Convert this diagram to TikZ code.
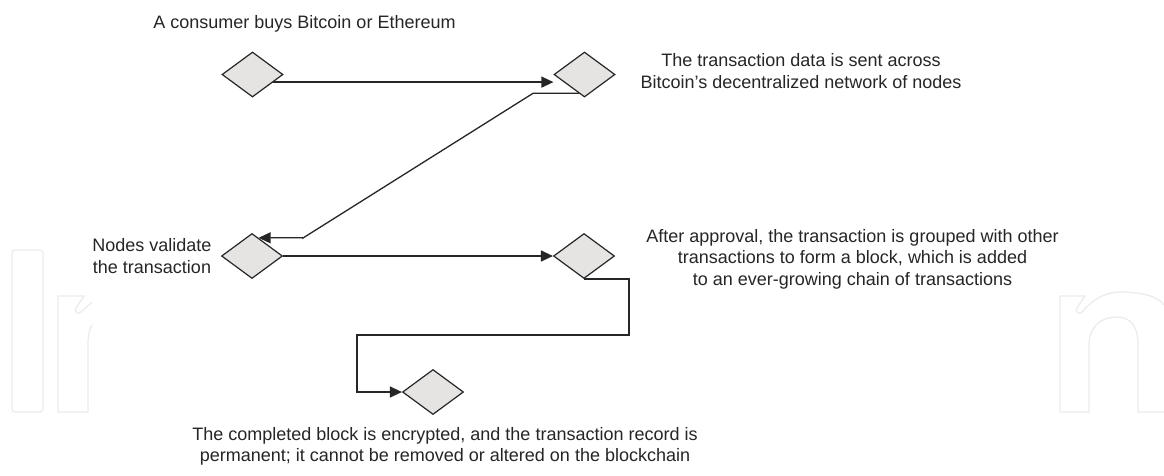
\documentclass[tikz,border=0pt]{standalone}
\usepackage{fontspec}
\setmainfont{Liberation Sans}
\usetikzlibrary{shapes.geometric,arrows.meta}
\definecolor{diafill}{HTML}{E6E4E3}
\definecolor{ink}{HTML}{262626}
\definecolor{markgray}{HTML}{ECECEC}
\begin{document}
\begin{tikzpicture}[x=1pt,y=-1pt,
  stage/.style={diamond, draw=ink, fill=diafill, line width=1.2pt,
    minimum width=61pt, minimum height=45pt, inner sep=0pt, aspect=1.36},
  % multi-line captions are placed by the baseline of their last line
  caption/.style={font=\fontsize{18}{21.5}\selectfont, text=ink,
    align=center, anchor=base, inner sep=0pt},
  conn/.style={draw=ink, line width=1.3pt, -{Triangle[length=12pt,width=11pt]}},
  wm/.style={draw=markgray, line width=1.3pt}]

% canvas
\fill[white] (0,0) rectangle (1164,475);
\useasboundingbox (0,0) rectangle (1164,475);

% faint logo outlines in the margins
\draw[wm, rounded corners=3pt] (12,250) rectangle (43,412);
\draw[wm] (92,325) .. controls (89,330) and (88,336) .. (88,345) -- (88,412)
  -- (58,412) -- (58,296) -- (84,296) -- (76,308)
  .. controls (74,312) and (78,315) .. (81,312) -- (92,302);
\draw[wm] (1164,412) -- (1138,412) -- (1138,345)
  .. controls (1138,325) and (1130,317) .. (1116,317)
  .. controls (1100,317) and (1089,328) .. (1089,345) -- (1089,412)
  -- (1060,412) -- (1060,296) -- (1085,296) -- (1077,308)
  .. controls (1075,312) and (1079,315) .. (1082,312)
  .. controls (1092,300) and (1105,292) .. (1120,292)
  .. controls (1140,292) and (1158,296) .. (1164,305);

% process stages
\node[stage] (d1) at (252.5,74.5) {};
\node[stage] (d2) at (584.5,74.5) {};
\node[stage] (d3) at (252,256) {};
\node[stage] (d4) at (584,256) {};
\node[stage] (d5) at (433,392) {};

% bend points of the connectors
\coordinate (k1) at (533,93);
\coordinate (k2) at (303,238);
\coordinate (k3) at (629,335);
\coordinate (k4) at (357,335);

% connectors
\draw[conn] (d1.-20) -- (d1.-20 -| d2.west);
\draw[conn] (d2.-107) -- (d2.-107 -| k1) -- (k2) -- (d3.70 -| k2) -- (d3.70);
\draw[conn] (d3.east) -- (d4.west);
\draw[conn] (d4.south) -| (k3) -- (k4) |- (d5.west);

% captions
\node[caption] (t1) at (304.5,28) {A consumer buys Bitcoin or Ethereum};
\node[caption] (t2) at (801,88) {The transaction data is sent across\\Bitcoin’s decentralized network of nodes};
\node[caption] (t3) at (152,273) {Nodes validate\\the transaction};
\node[caption] (t4) at (852.5,285) {After approval, the transaction is grouped with other\\transactions to form a block, which is added\\to an ever-growing chain of transactions};
\node[caption] (t5) at (445,461.5) {The completed block is encrypted, and the transaction record is\\permanent; it cannot be removed or altered on the blockchain};
\end{tikzpicture}
\end{document}
